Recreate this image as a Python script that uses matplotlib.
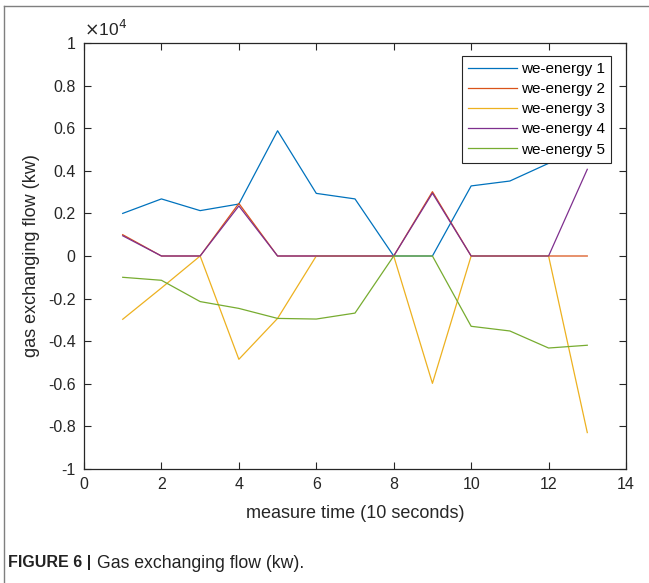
import matplotlib
matplotlib.use("Agg")
import matplotlib.pyplot as plt
from matplotlib.lines import Line2D

plt.rcParams['font.family'] = ['Liberation Sans', 'DejaVu Sans']

# gas exchanging flow per we-energy node, in kw
time = [1, 2, 3, 4, 5, 6, 7, 8, 9, 10, 11, 12, 13]
we1 = [2000, 2680, 2130, 2440, 5880, 2940, 2680, 0, 0, 3290, 3520, 4350, 5000]
we2 = [1000, 0, 0, 2470, 0, 0, 0, 0, 3020, 0, 0, 0, 0]
we3 = [-2970, -1500, 0, -4850, -2930, 0, 0, 0, -5980, 0, 0, 0, -8290]
we4 = [950, 0, 0, 2350, 0, 0, 0, 0, 2950, 0, 0, 0, 4070]
we5 = [-1000, -1140, -2140, -2460, -2930, -2960, -2680, 0, 0, -3300, -3520, -4320, -4190]

labels = ['we-energy 1', 'we-energy 2', 'we-energy 3', 'we-energy 4', 'we-energy 5']
colors = ['#0072BD', '#D95319', '#EDB120', '#7E2F8E', '#77AC30']
scale = 1e4

fig = plt.figure(figsize=(6.49, 5.83), dpi=100)
ax = fig.add_axes([84 / 649, 1 - 469 / 583, 542 / 649, 426 / 583])

for series, lab, col in zip([we1, we2, we3, we4, we5], labels, colors):
    ax.plot(time, [v / scale for v in series], color=col, lw=0.9, label=lab)

ax.set_xlim(0, 14)
ax.set_ylim(-1, 1)
ax.set_xticks(range(0, 15, 2))
yt = [-1, -0.8, -0.6, -0.4, -0.2, 0, 0.2, 0.4, 0.6, 0.8, 1]
ax.set_yticks(yt)
ax.set_yticklabels(['%g' % v for v in yt])
ax.tick_params(direction='in', top=True, right=True, length=5, width=0.8,
               labelsize=11.5, colors='#262626', pad=6)
for sp in ax.spines.values():
    sp.set_color('#262626')
    sp.set_linewidth(0.9)

ax.set_xlabel('measure time (10 seconds)', fontsize=13, color='#262626', labelpad=9)
ax.set_ylabel('gas exchanging flow (kw)', fontsize=13, color='#262626', labelpad=6)
ax.text(0, 1.01, r'$\times$10$^4$', transform=ax.transAxes, fontsize=12.5,
        color='#262626', ha='left', va='bottom')

leg = ax.legend(loc='upper right', bbox_to_anchor=(611 / 649, 1 - 56 / 583),
                bbox_transform=fig.transFigure, fontsize=11, fancybox=False,
                framealpha=1, edgecolor='#262626', handlelength=3.2,
                borderpad=0.4, labelspacing=0.4, handletextpad=0.25,
                borderaxespad=0)
leg.get_frame().set_linewidth(0.8)

# page frame lines and caption
fig.add_artist(Line2D([4 / 649, 1], [1 - 6 / 583, 1 - 6 / 583], color='#7f7f7f', lw=1))
fig.add_artist(Line2D([4 / 649, 4 / 649], [0, 1 - 6 / 583], color='#7f7f7f', lw=1))
fig.text(8 / 649, 1 - 563 / 583, 'FIGURE 6 |', fontsize=11.5, fontweight='bold',
         color='#222222', va='center')
fig.text(97 / 649, 1 - 563 / 583, 'Gas exchanging flow (kw).', fontsize=12.7,
         color='#222222', va='center')

fig.savefig('out.png', dpi=100)
